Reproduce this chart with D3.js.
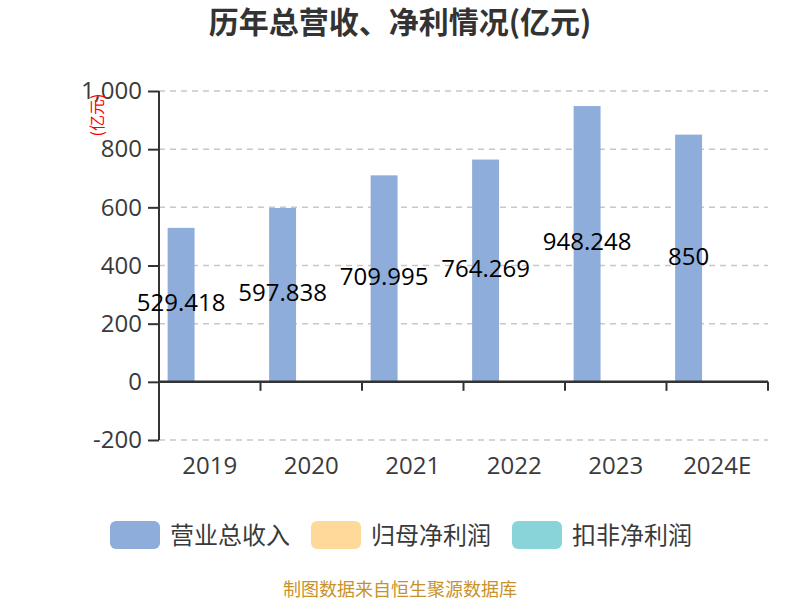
<!DOCTYPE html>
<html><head><meta charset="utf-8">
<script src="https://cdn.jsdelivr.net/npm/d3@7/dist/d3.min.js"></script>
<style>body{margin:0;background:#fff;}svg{display:block;font-family:"Noto Sans CJK SC","Noto Sans",sans-serif;}</style>
</head><body><svg id="c" width="800" height="600"></svg>
<script>
const categories = ["2019","2020","2021","2022","2023","2024E"];
const seriesNames = ["营业总收入","归母净利润","扣非净利润"];
const revenue = [529.418, 597.838, 709.995, 764.269, 948.248, 850];
const netProfit = [2.1, 2.3, 2.2, 2.4, 2.0, null];
const netProfitDeducted = [2.0, 2.1, 2.0, 2.2, null, 2.0];
const yTicks = [-200, 0, 200, 400, 600, 800, 1000];
const yTickLabels = ["-200","0","200","400","600","800","1,000"];
const colors = ["#8eaddb", "#fed99a", "#88d4d8"];

(function () {
const svg = d3.select("#c");
const pL = 159, pR = 768, pT = 91, pB = 440;
const numFont = "'Open Sans','Noto Sans',sans-serif";
const x = d3.scaleBand().domain(categories).range([pL, pR]).paddingInner(0.17).paddingOuter(0.085);
const sub = d3.scaleBand().domain([0,1,2]).range([0, x.bandwidth()]).paddingInner(0.06);
const y = d3.scaleLinear().domain([-200, 1000]).range([pB, pT]);
const full = d3.scaleBand().domain(categories).range([pL, pR]);

// title
svg.append("text").attr("x", 400).attr("y", 33).attr("text-anchor", "middle")
  .attr("font-size", 30).attr("font-weight", "bold").attr("fill", "#333").text("历年总营收、净利情况(亿元)");

// grid
svg.append("g").selectAll("line").data(yTicks.filter(d => d !== 0)).join("line")
  .attr("x1", pL).attr("x2", pR).attr("y1", d => y(d)).attr("y2", d => y(d))
  .attr("stroke", "#c8c8c8").attr("stroke-width", 1.5).attr("stroke-dasharray", "6,5");

// bars
const data = [revenue, netProfit, netProfitDeducted];
data.forEach((vals, si) => {
  svg.append("g").selectAll("rect").data(categories.map((c, i) => ({c, v: vals[i]})).filter(d => d.v != null)).join("rect")
    .attr("x", d => x(d.c) + sub(si)).attr("width", sub.bandwidth())
    .attr("y", d => y(Math.max(0, d.v))).attr("height", d => Math.abs(y(d.v) - y(0)))
    .attr("fill", colors[si]);
});

// y axis
const yAxis = d3.axisLeft(y).tickValues(yTicks).tickFormat((d, i) => yTickLabels[i]).tickSize(11).tickPadding(6);
const gy = svg.append("g").attr("transform", `translate(${pL},0)`).call(yAxis);
gy.select(".domain").attr("stroke", "#333").attr("stroke-width", 2).attr("d", `M0,${pT}V${pB}`);
gy.selectAll(".tick line").attr("stroke", "#333").attr("stroke-width", 2);
gy.selectAll(".tick text").attr("font-size", 24).attr("fill", "#3a3a3a").attr("font-family", numFont);

// x axis at zero
const xAxis = d3.axisBottom(full).tickSize(0).tickPadding(0);
const gx = svg.append("g").attr("transform", `translate(0,${y(0)})`).call(xAxis);
gx.select(".domain").attr("stroke", "#333").attr("stroke-width", 2.5).attr("d", `M${pL},0H${pR}`);
gx.selectAll(".tick text").remove();
const boundaries = [pL, ...categories.map(c => full(c) + full.bandwidth())];
gx.selectAll(".bt").data(boundaries).join("line").attr("class", "bt")
  .attr("x1", d => d).attr("x2", d => d).attr("y1", 0).attr("y2", 9).attr("stroke", "#333").attr("stroke-width", 2);
svg.append("g").selectAll("text").data(categories).join("text")
  .attr("x", d => full(d) + full.bandwidth() / 2).attr("y", 474).attr("text-anchor", "middle")
  .attr("font-size", 24).attr("fill", "#3a3a3a").attr("font-family", numFont).text(d => d);

// y label
svg.append("text").attr("transform", `translate(97,115) rotate(-90)`).attr("text-anchor", "middle")
  .attr("dy", "0.35em").attr("font-size", 16).attr("fill", "#f00").text("(亿元)");

// value labels
svg.append("g").selectAll("text").data(categories.map((c, i) => ({c, v: revenue[i]}))).join("text")
  .attr("x", d => x(d.c) + sub(0) + sub.bandwidth() / 2).attr("y", d => (y(d.v) + y(0)) / 2 - 2)
  .attr("dy", "0.35em").attr("text-anchor", "middle").attr("font-size", 24).attr("fill", "#000")
  .attr("font-family", numFont).text(d => d.v);

// legend
const legX = [110, 311, 512];
const lg = svg.append("g").selectAll("g").data(seriesNames).join("g").attr("transform", (d, i) => `translate(${legX[i]},521)`);
lg.append("rect").attr("width", 50).attr("height", 28).attr("rx", 6).attr("fill", (d, i) => colors[i]);
lg.append("text").attr("x", 60).attr("y", 14).attr("dy", "0.36em").attr("font-size", 24).attr("fill", "#3a3a3a").text(d => d);

// footer
svg.append("text").attr("x", 400).attr("y", 596).attr("text-anchor", "middle").attr("font-size", 18)
  .attr("fill", "#c8922a").text("制图数据来自恒生聚源数据库");
})();
</script></body></html>
